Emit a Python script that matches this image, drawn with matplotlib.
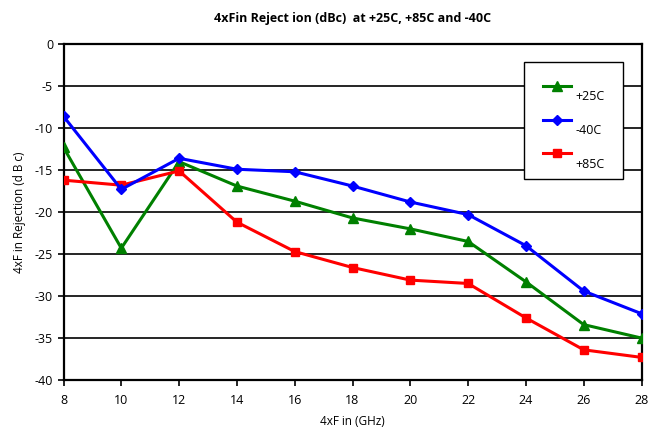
import matplotlib.pyplot as plt

# Frequency points (GHz)
freq = [8, 10, 12, 14, 16, 18, 20, 22, 24, 26, 28]

# Rejection values (dBc)
rej_25 = [-12.3, -24.3, -14.0, -16.9, -18.7, -20.7, -22.0, -23.5, -28.3, -33.4, -35.0]
rej_m40 = [-8.6, -17.3, -13.6, -14.9, -15.2, -16.9, -18.8, -20.3, -24.0, -29.4, -32.1]
rej_85 = [-16.2, -16.8, -15.1, -21.2, -24.7, -26.6, -28.1, -28.5, -32.6, -36.4, -37.3]

x_ticks = list(range(8, 29, 2))
y_ticks = list(range(-40, 1, 5))

plt.rcParams['font.family'] = ['Open Sans', 'DejaVu Sans']
plt.rcParams['axes.unicode_minus'] = False

fig = plt.figure(figsize=(6.48, 4.28), dpi=100)
ax = fig.add_axes([0.098, 0.112, 0.892, 0.785])

# horizontal grid lines
for y in y_ticks[1:-1]:
    ax.axhline(y, color='black', linewidth=1.2, zorder=1)

ax.plot(freq, rej_25, color='#008000', marker='^', markersize=7, linewidth=2.2, label='+25C', zorder=3)
ax.plot(freq, rej_m40, color='#0000ff', marker='D', markersize=5.5, linewidth=2.2, label='-40C', zorder=4)
ax.plot(freq, rej_85, color='#ff0000', marker='s', markersize=6, linewidth=2.2, label='+85C', zorder=3)

ax.set_xlim(8, 28)
ax.set_ylim(-40, 0)
ax.set_xticks(x_ticks)
ax.set_yticks(y_ticks)
ax.tick_params(axis='both', labelsize=9, length=4, width=1.2, direction='out')
ax.tick_params(axis='x', pad=6)

for side in ['left', 'bottom', 'top', 'right']:
    ax.spines[side].set_linewidth(1.6)
    ax.spines[side].set_color('black')

ax.set_title('4xFin Reject ion (dBc)  at +25C, +85C and -40C', fontsize=9, fontweight='bold', pad=16)
ax.set_xlabel('4xF in (GHz)', fontsize=8.5, labelpad=6)
ax.set_ylabel('4xF in Rejection (d B c)', fontsize=8.5, labelpad=6)

leg = ax.legend(loc='upper right', bbox_to_anchor=(0.968, 0.948), fontsize=9,
                frameon=True, fancybox=False, edgecolor='black', framealpha=1,
                handlelength=2.3, labelspacing=1.65, borderpad=1.5, handletextpad=0.3,
                borderaxespad=0)
leg.get_frame().set_linewidth(1.0)
for t in leg.get_texts():
    t.set_verticalalignment('top')

fig.savefig('out.png', dpi=100)
